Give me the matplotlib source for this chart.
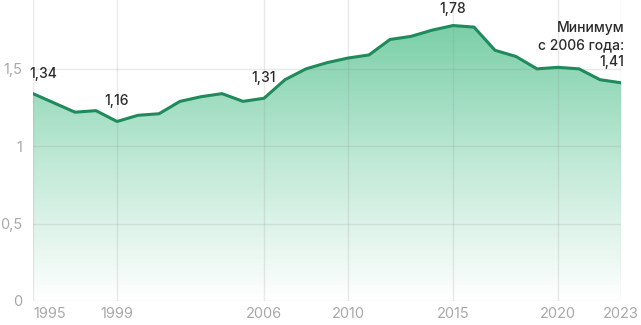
import numpy as np
import matplotlib.pyplot as plt
from matplotlib.colors import LinearSegmentedColormap

years = list(range(1995, 2024))
rate = [1.34, 1.28, 1.22, 1.23, 1.16, 1.20, 1.21, 1.29, 1.32, 1.34, 1.29, 1.31,
        1.43, 1.50, 1.54, 1.57, 1.59, 1.69, 1.71, 1.75, 1.78, 1.77, 1.62, 1.58,
        1.50, 1.51, 1.50, 1.43, 1.41]
xticks = [1995, 1999, 2006, 2010, 2015, 2020, 2023]
yticks = [0, 0.5, 1, 1.5]
ylabels = ['0', '0,5', '1', '1,5']
notes = {1995: '1,34', 1999: '1,16', 2006: '1,31', 2015: '1,78'}

plt.rcParams['font.family'] = ['Inter', 'DejaVu Sans']

fig = plt.figure(figsize=(6.41, 3.25), dpi=100)
ax = fig.add_axes([33/641, 1-301/325, (621-33)/641, 301/325])
ax.set_xlim(1995, 2023)
ax.set_ylim(0, 1.945)

# gradient fill under the line
cmap = LinearSegmentedColormap.from_list('g', ['#ffffff', '#c0e9d6', '#79cea7'])
grad = np.linspace(0, 1, 256).reshape(-1, 1)
img = ax.imshow(grad, cmap=cmap, aspect='auto', origin='lower',
                extent=[1995, 2023, 0, 1.8], zorder=1)
poly = ax.fill_between(years, rate, 0, color='none')
img.set_clip_path(poly.get_paths()[0], transform=ax.transData)

ax.plot(years, rate, color='#1f8a5b', lw=2.2, solid_joinstyle='round',
        solid_capstyle='round', zorder=3)

ax.set_xticks(xticks)
ax.set_yticks(yticks)
ax.set_yticklabels(ylabels)
ax.grid(True, color='#8a8a8a', alpha=0.18, lw=1)
for s in ax.spines.values():
    s.set_visible(False)
ax.tick_params(length=0, colors='#a8a8a8', labelsize=10.5)
ax.tick_params(axis='x', pad=4)
ax.tick_params(axis='y', pad=8)
for gl in ax.get_xgridlines() + ax.get_ygridlines():
    gl.set_zorder(2)
xl = ax.get_xticklabels()
xl[0].set_ha('left')
xl[-1].set_x(2022.9)

for yr, txt in notes.items():
    v = rate[years.index(yr)]
    ha = 'left' if yr == 1995 else 'center'
    dx = -4 if yr == 1995 else 0
    dy = 10 if yr == 2015 else 13
    ax.annotate(txt, (yr, v), xytext=(dx, dy), textcoords='offset pixels',
                ha=ha, va='bottom', fontsize=10, fontweight='medium',
                color='#2b2b2b', annotation_clip=False, zorder=5)

ax.annotate('Минимум\nс 2006 года:\n1,41', (2023, rate[-1]), xytext=(3, 14),
            textcoords='offset pixels', ha='right', va='bottom', fontsize=10,
            fontweight='medium', color='#2b2b2b', linespacing=1.25,
            annotation_clip=False, zorder=5)

fig.savefig('out.png', dpi=100)
